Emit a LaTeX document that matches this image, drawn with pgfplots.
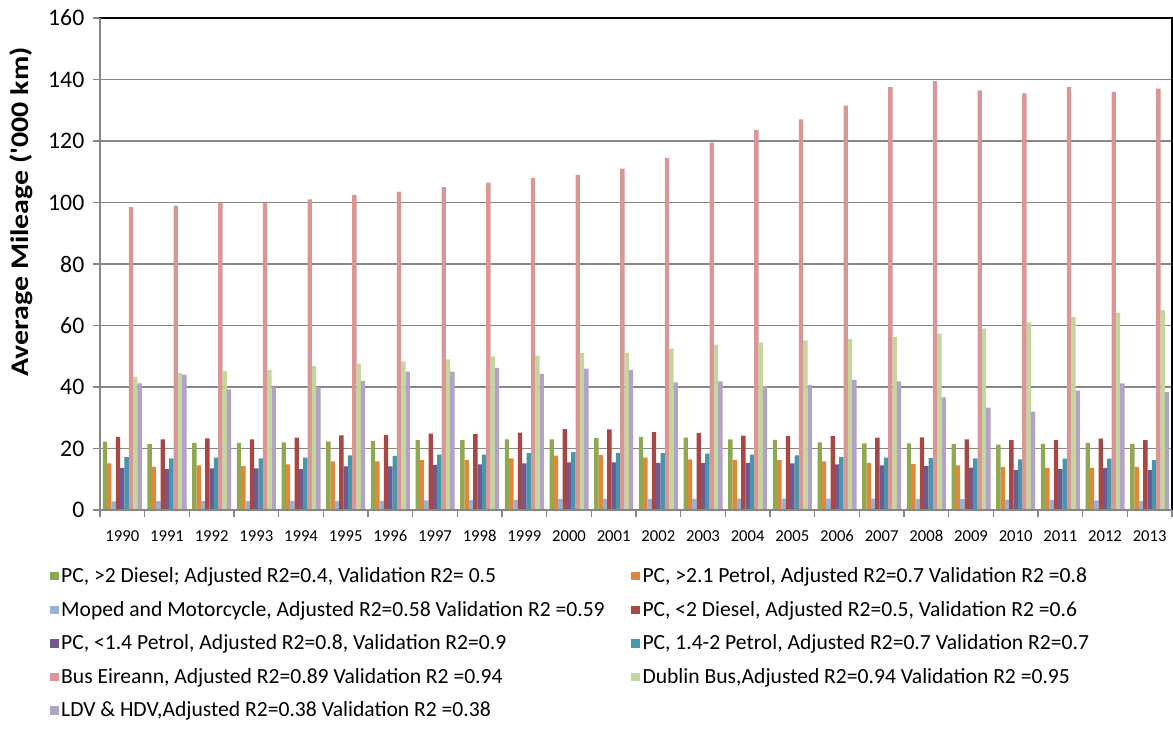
\documentclass[border=0pt]{standalone}
\usepackage{pgfplots}
\pgfplotsset{compat=1.18}
\usepackage{pgfplotstable}
\usepackage{fontspec}
\setmainfont{Carlito}
\definecolor{cG}{RGB}{143,169,80}
\definecolor{cO}{RGB}{226,134,58}
\definecolor{cM}{RGB}{149,179,215}
\definecolor{cR}{RGB}{170,70,67}
\definecolor{cP}{RGB}{113,88,143}
\definecolor{cT}{RGB}{65,152,175}
\definecolor{cB}{RGB}{217,150,148}
\definecolor{cD}{RGB}{195,214,155}
\definecolor{cL}{RGB}{178,162,199}
\definecolor{axgray}{RGB}{134,134,134}
\pgfplotstableread{
x g o m r p t b d l
0 22.2 15.2 2.8 23.8 13.7 17.2 98.5 43.3 41.2
1 21.5 14.0 2.9 23.0 13.3 16.8 99.0 44.6 44.0
2 21.8 14.5 2.9 23.3 13.5 17.0 100.0 45.2 39.2
3 21.8 14.3 2.9 23.0 13.5 16.8 100.0 45.6 40.0
4 22.0 14.8 3.0 23.5 13.3 17.0 101.0 46.8 40.0
5 22.3 15.8 3.0 24.3 14.2 17.8 102.5 47.6 42.0
6 22.4 15.8 3.0 24.4 14.2 17.6 103.5 48.3 45.0
7 22.7 16.3 3.1 24.8 14.7 18.0 105.0 49.0 45.0
8 22.7 16.3 3.2 24.7 14.8 18.0 106.5 50.0 46.2
9 23.0 16.8 3.3 25.2 15.2 18.5 108.0 50.2 44.3
10 23.0 17.7 3.6 26.3 15.5 18.8 109.0 51.0 46.0
11 23.4 17.9 3.6 26.2 15.5 18.6 111.0 51.2 45.6
12 23.8 17.0 3.6 25.3 15.3 18.5 114.5 52.6 41.5
13 23.5 16.5 3.6 25.0 15.3 18.3 119.5 53.8 41.8
14 23.0 16.3 3.7 24.2 15.3 18.0 123.5 54.5 40.2
15 22.8 16.2 3.7 24.0 15.2 17.8 127.0 55.2 40.6
16 22.0 15.8 3.7 24.0 14.8 17.3 131.5 55.6 42.3
17 21.7 15.3 3.7 23.5 14.5 17.0 137.5 56.2 41.8
18 21.7 14.9 3.6 23.6 14.3 16.9 139.5 57.4 36.6
19 21.4 14.5 3.5 23.0 13.8 16.8 136.5 59.0 33.3
20 21.3 14.0 3.4 22.7 13.0 16.5 135.5 61.0 32.0
21 21.5 13.7 3.3 22.7 13.3 16.7 137.5 62.7 38.8
22 21.8 13.7 3.1 23.2 13.7 16.7 136.0 64.2 41.2
23 21.5 14.0 3.0 22.7 13.0 16.2 137.0 65.0 38.3
}\data
\begin{document}
\begin{tikzpicture}
\begin{axis}[
  scale only axis, width=804pt, height=369pt,
  ybar=0pt, bar width=3.25pt,
  xmin=-0.5, xmax=23.5, ymin=0, ymax=160,
  ytick={0,20,...,160},
  xtick={0,...,23},
  xticklabels={1990,1991,1992,1993,1994,1995,1996,1997,1998,1999,2000,2001,2002,2003,2004,2005,2006,2007,2008,2009,2010,2011,2012,2013},
  xtick style={draw=none},
  extra x ticks={-0.5,0.5,1.5,2.5,3.5,4.5,5.5,6.5,7.5,8.5,9.5,10.5,11.5,12.5,13.5,14.5,15.5,16.5,17.5,18.5,19.5,20.5,21.5,22.5,23.5},
  extra x tick labels={},
  extra x tick style={xtick style={draw=axgray, line width=1.2pt}},
  ytick style={draw=axgray, line width=1.2pt},
  major tick length=5.25pt,
  tick align=outside,
  xtick pos=bottom, ytick pos=left,
  ymajorgrids, grid style={axgray, line width=1.4pt},
  axis line style={black, line width=1.4pt},
  /pgf/number format/assume math mode=true,
  yticklabel style={font=\fontsize{17.8}{20}\selectfont, xshift=-3pt},
  xticklabel style={font=\fontsize{12.5}{14}\selectfont, anchor=base, yshift=-18.6pt},
  ylabel={\scalebox{1.18}[1]{\textbf{Average Mileage (\textquotesingle 000 km)}}},
  ylabel style={font=\fontsize{19}{22}\selectfont, at={(axis description cs:-0.0735,0.606)}, anchor=center},
  legend columns=2,
  legend cell align=left,
  legend image code/.code={\fill[#1] (0pt,-3.15pt) rectangle (6.3pt,3.15pt);},
  legend style={draw=none, fill=none, at={(axis description cs:-0.0505,-0.106)}, anchor=north west,
    font=\fontsize{16.2}{18}\selectfont, row sep=8.4pt,
    /tikz/every even column/.append style={column sep=18pt}},
]
\addplot[fill=cG, draw=none] table[x=x,y=g]{\data};
\addplot[fill=cO, draw=none] table[x=x,y=o]{\data};
\addplot[fill=cM, draw=none] table[x=x,y=m]{\data};
\addplot[fill=cR, draw=none] table[x=x,y=r]{\data};
\addplot[fill=cP, draw=none] table[x=x,y=p]{\data};
\addplot[fill=cT, draw=none] table[x=x,y=t]{\data};
\addplot[fill=cB, draw=none] table[x=x,y=b]{\data};
\addplot[fill=cD, draw=none] table[x=x,y=d]{\data};
\addplot[fill=cL, draw=none] table[x=x,y=l]{\data};
\legend{{PC, >2 Diesel; Adjusted R2=0.4, Validation R2= 0.5},
{PC, >2.1 Petrol, Adjusted R2=0.7 Validation R2 =0.8},
{Moped and Motorcycle, Adjusted R2=0.58 Validation R2 =0.59},
{PC, <2 Diesel, Adjusted R2=0.5, Validation R2 =0.6},
{PC, <1.4 Petrol, Adjusted R2=0.8, Validation R2=0.9},
{PC, 1.4-2 Petrol, Adjusted R2=0.7 Validation R2=0.7},
{Bus Eireann, Adjusted R2=0.89 Validation R2 =0.94},
{Dublin Bus,Adjusted R2=0.94 Validation R2 =0.95},
{LDV \& HDV,Adjusted R2=0.38 Validation R2 =0.38}}
\coordinate (SW) at (rel axis cs:0,0);
\coordinate (NW) at (rel axis cs:0,1);
\coordinate (SE) at (rel axis cs:1,0);
\coordinate (NE) at (rel axis cs:1,1);
\end{axis}
\draw[axgray, line width=1.4pt] (NW) -- (SW) -- (SE);
\pgfresetboundingbox
\path[use as bounding box] ([shift={(-75pt,-167.25pt)}]SW) rectangle ([shift={(0.75pt,13.5pt)}]NE);
\end{tikzpicture}
\end{document}
